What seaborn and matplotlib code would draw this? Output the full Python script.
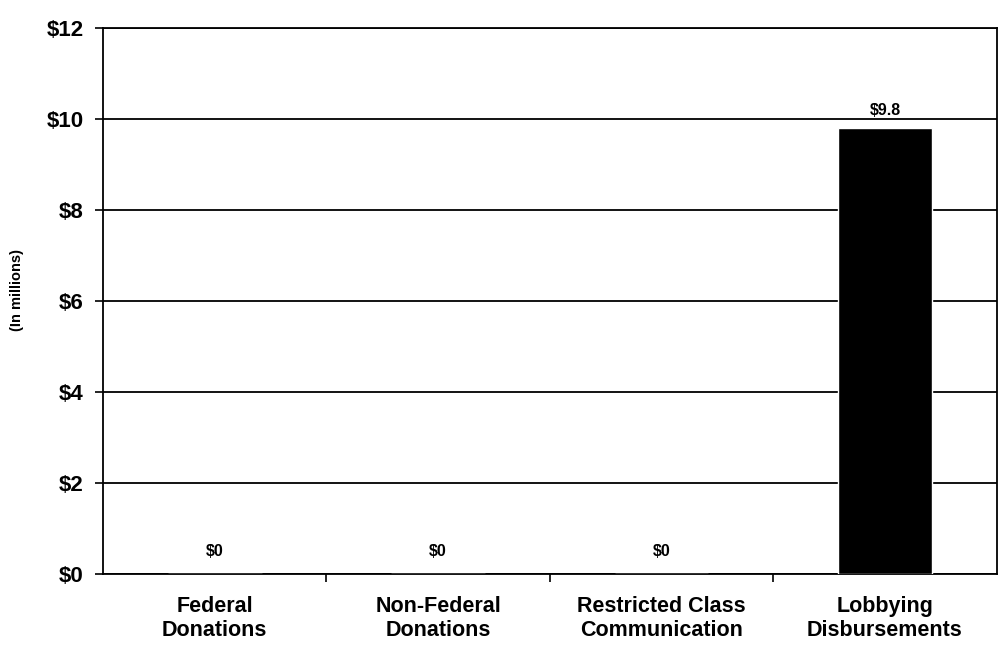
import matplotlib
matplotlib.use("Agg")
import matplotlib.pyplot as plt
import seaborn as sns
import pandas as pd
from matplotlib.ticker import FixedLocator, FuncFormatter

categories = ["Federal\nDonations", "Non-Federal\nDonations",
              "Restricted Class\nCommunication", "Lobbying\nDisbursements"]
amounts = [0.0, 0.0, 0.0, 9.8]          # in millions of dollars
value_labels = ["$0", "$0", "$0", "$9.8"]
y_ticks = [0, 2, 4, 6, 8, 10, 12]

sns.set_theme(style="white")
plt.rcParams["font.family"] = ["Liberation Sans", "DejaVu Sans"]
plt.rcParams["font.weight"] = "bold"
plt.rcParams["text.color"] = "black"
plt.rcParams["xtick.color"] = "black"
plt.rcParams["ytick.color"] = "black"
plt.rcParams["axes.labelcolor"] = "black"

df = pd.DataFrame({"category": categories, "amount": amounts})

fig = plt.figure(figsize=(10.03, 6.56), dpi=100)
ax = fig.add_axes([0.1027, 0.125, 0.891, 0.833])

sns.barplot(data=df, x="category", y="amount", color="black",
            width=0.42, ax=ax, zorder=3, saturation=1)

ax.set_ylim(0, 12)
ax.set_xlim(-0.5, len(categories) - 0.5)
ax.yaxis.set_major_locator(FixedLocator(y_ticks))
ax.yaxis.set_major_formatter(FuncFormatter(lambda v, _: f"${v:g}"))
ax.grid(axis="y", color="black", linewidth=1.3, zorder=0)
ax.grid(axis="x", visible=False)

for spine in ax.spines.values():
    spine.set_color("black")
    spine.set_linewidth(1.3)

ax.tick_params(axis="y", left=True, length=6, width=1.2, color="black",
               labelsize=16, pad=8)
ax.tick_params(axis="x", which="major", bottom=False, labelsize=15.5, pad=10)
ax.set_xticks([0.5, 1.5, 2.5], minor=True)
ax.tick_params(axis="x", which="minor", bottom=True, length=6, width=1.2,
               color="black", direction="out")
for lbl in ax.get_xticklabels() + ax.get_yticklabels():
    lbl.set_fontweight("bold")
    lbl.set_color("black")
for lbl in ax.get_xticklabels():
    lbl.set_linespacing(1.15)

ax.set_xlabel("")
ax.set_ylabel("(In millions)", fontsize=10.5, fontweight="bold", color="black")
ax.yaxis.set_label_coords(-0.088, 0.52)

for i, (v, txt) in enumerate(zip(amounts, value_labels)):
    ax.annotate(txt, (i, v), xytext=(0, 10 if v > 0 else 22),
                textcoords="offset pixels",
                ha="center", va="bottom" if v > 0 else "center",
                fontsize=11.5, fontweight="bold", color="black", zorder=4)

fig.savefig("out.png", dpi=100, facecolor="white")
